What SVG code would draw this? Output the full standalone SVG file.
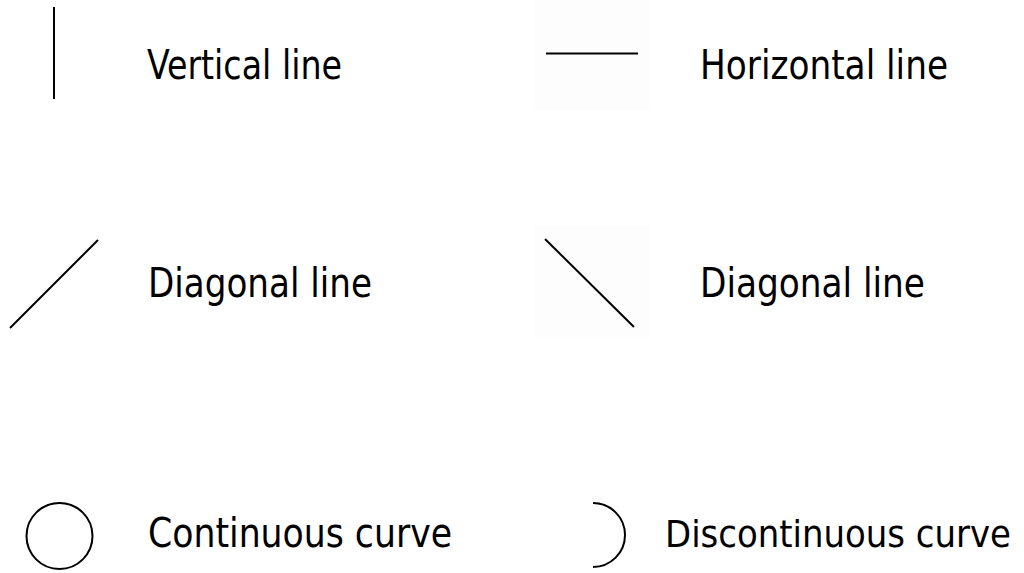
<svg xmlns="http://www.w3.org/2000/svg" width="1024" height="573" viewBox="0 0 1024 573">
  <style>
    .bg { fill: #fdfdfd; }
    .ln { stroke: #000; stroke-width: 2; fill: none; }
    .lbl { font-family: "DejaVu Sans Condensed", "DejaVu Sans", sans-serif; font-size: 40px; fill: #000; }
    .sm { font-size: 38px; }
  </style>
  <rect width="1024" height="573" fill="#ffffff"/>
  <rect class="bg" x="535" y="0" width="114" height="110"/>
  <rect class="bg" x="535" y="225" width="114" height="113"/>
  <g id="connectors">
    <line id="vline" class="ln" x1="54" y1="7" x2="54" y2="99"/>
    <line id="hline" class="ln" x1="546" y1="53.5" x2="638" y2="53.5"/>
    <line id="dline1" class="ln" x1="10" y1="328" x2="98" y2="240"/>
    <line id="dline2" class="ln" x1="545" y1="239" x2="634" y2="327"/>
    <circle id="circle" class="ln" cx="59.5" cy="536" r="33"/>
    <path id="arc" class="ln" d="M 593 503 A 32 32 0 0 1 593 567"/>
  </g>
  <g id="label-vertical"><text class="lbl" x="147" y="79" textLength="195" lengthAdjust="spacingAndGlyphs">Vertical line</text></g>
  <g id="label-horizontal"><text class="lbl" x="700" y="79" textLength="248" lengthAdjust="spacingAndGlyphs">Horizontal line</text></g>
  <g id="label-diagonal1"><text class="lbl" x="148" y="297" textLength="224" lengthAdjust="spacingAndGlyphs">Diagonal line</text></g>
  <g id="label-diagonal2"><text class="lbl" x="700" y="297" textLength="225" lengthAdjust="spacingAndGlyphs">Diagonal line</text></g>
  <g id="label-continuous"><text class="lbl" x="148" y="547" textLength="304" lengthAdjust="spacingAndGlyphs">Continuous curve</text></g>
  <g id="label-discontinuous"><text class="lbl sm" x="665" y="547" textLength="346" lengthAdjust="spacingAndGlyphs">Discontinuous curve</text></g>
</svg>
